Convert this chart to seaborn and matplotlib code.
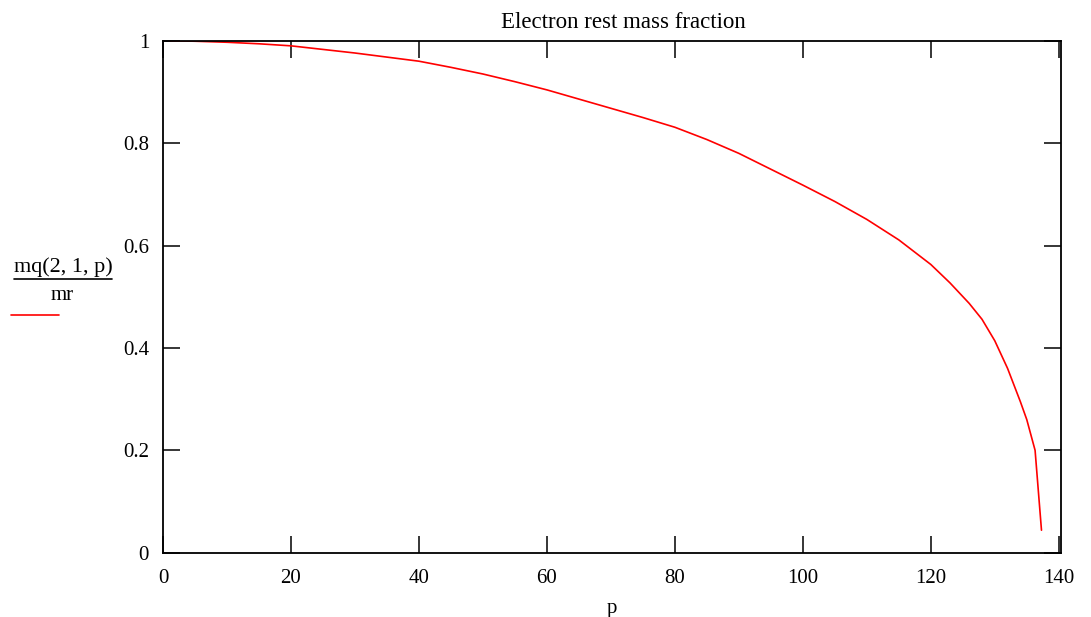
import numpy as np
import pandas as pd
import matplotlib
matplotlib.use("Agg")
import matplotlib.pyplot as plt
import seaborn as sns
from matplotlib.lines import Line2D

# ==============================
# DATA
# ==============================
p_values = [1, 5, 10, 15, 20, 25, 30, 35, 40, 45, 50, 55, 60, 65, 70, 75,
            80, 85, 90, 95, 100, 105, 110, 115, 120, 123, 126, 128, 130,
            132, 134, 135, 136.3, 137.3]
mass_fraction = [1.0, 0.999, 0.997, 0.994, 0.990, 0.983, 0.976, 0.968,
                 0.960, 0.948, 0.935, 0.920, 0.904, 0.886, 0.868, 0.850,
                 0.831, 0.807, 0.780, 0.749, 0.718, 0.686, 0.651, 0.611,
                 0.563, 0.527, 0.487, 0.456, 0.414, 0.360, 0.295, 0.260,
                 0.200, 0.044]

x_ticks = [0, 20, 40, 60, 80, 100, 120, 140]
y_ticks = [0, 0.2, 0.4, 0.6, 0.8, 1.0]
y_tick_labels = ["0", "0.2", "0.4", "0.6", "0.8", "1"]

df = pd.DataFrame({"p": p_values, "ratio": mass_fraction})

# ==============================
# STYLE
# ==============================
sns.set_style("white")
plt.rcParams["font.family"] = ["Liberation Serif", "DejaVu Serif"]
plt.rcParams["font.size"] = 15
plt.rcParams["text.color"] = "black"
plt.rcParams["axes.labelcolor"] = "black"

fig = plt.figure(figsize=(10.91, 6.17), dpi=100)
ax = fig.add_axes([0.1494, 0.1042, 0.9725 - 0.1494, 0.934 - 0.1042])

sns.lineplot(data=df, x="p", y="ratio", ax=ax, color="#ff0000",
             linewidth=1.2, legend=False)

ax.set_xlim(0, 140.35)
ax.set_ylim(0, 1)
ax.set_xticks(x_ticks)
ax.set_xticklabels([str(t) for t in x_ticks])
ax.set_yticks(y_ticks)
ax.set_yticklabels(y_tick_labels)

ax.tick_params(direction="in", length=12, width=1.1, top=True, right=True,
               bottom=True, left=True, labelsize=15, colors="black",
               labelcolor="black")
ax.tick_params(axis="x", pad=12)
ax.tick_params(axis="y", pad=10)
for s in ax.spines.values():
    s.set_visible(True)
    s.set_color("black")
    s.set_linewidth(1.3)

ax.set_xlabel("p", fontsize=15, labelpad=8, color="black")
ax.set_ylabel("")
ax.set_title("Electron rest mass fraction", fontsize=16.5, pad=9,
             x=0.513, color="black")

# fraction style y label with legend line sample
fig.text(63 / 1091, 1 - 267 / 617, "mq(2, 1, p)", ha="center",
         va="center", fontsize=16, color="black")
fig.add_artist(Line2D([14 / 1091, 112 / 1091], [1 - 279 / 617, 1 - 279 / 617],
                      color="black", linewidth=1.2))
fig.text(62 / 1091, 1 - 295 / 617, "mr", ha="center", va="center",
         fontsize=15, color="black")
fig.add_artist(Line2D([11 / 1091, 59 / 1091], [1 - 315 / 617, 1 - 315 / 617],
                      color="#ff0000", linewidth=1.2))

fig.savefig("out.png", dpi=100)
